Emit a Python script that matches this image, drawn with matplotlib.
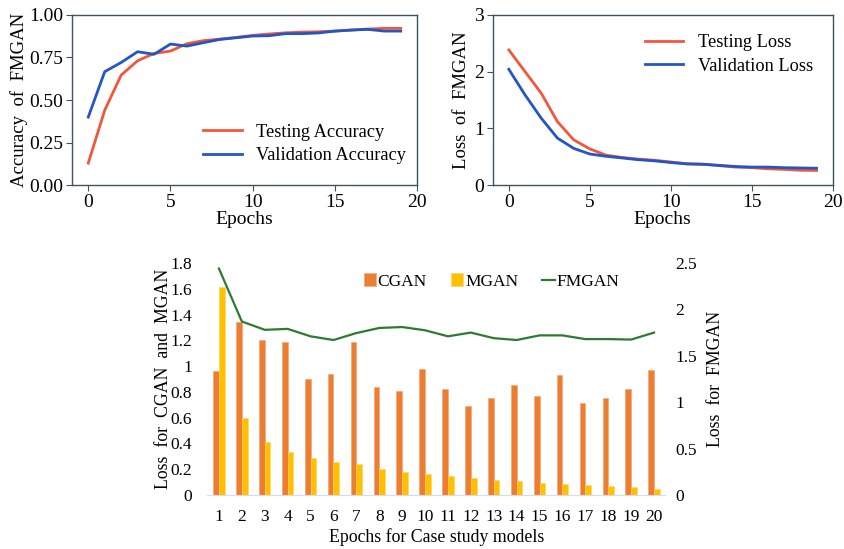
import numpy as np
import matplotlib
matplotlib.use("Agg")
import matplotlib.pyplot as plt

plt.rcParams['font.family'] = ['Liberation Serif', 'DejaVu Serif']

epochs = list(range(20))
test_acc = [0.13, 0.44, 0.646, 0.73, 0.773, 0.787, 0.83, 0.848, 0.857, 0.867,
            0.879, 0.887, 0.894, 0.898, 0.90, 0.904, 0.91, 0.916, 0.92, 0.92]
val_acc = [0.40, 0.666, 0.72, 0.783, 0.768, 0.828, 0.816, 0.836, 0.855, 0.865,
           0.875, 0.877, 0.889, 0.889, 0.893, 0.904, 0.91, 0.914, 0.904, 0.904]
test_loss = [2.38, 2.0, 1.62, 1.12, 0.80, 0.64, 0.53, 0.49, 0.46, 0.44,
             0.41, 0.38, 0.37, 0.345, 0.32, 0.31, 0.29, 0.28, 0.265, 0.26]
val_loss = [2.04, 1.59, 1.18, 0.83, 0.65, 0.55, 0.51, 0.48, 0.45, 0.43,
            0.40, 0.375, 0.37, 0.35, 0.33, 0.32, 0.32, 0.31, 0.305, 0.30]

models = [str(i) for i in range(1, 21)]
cgan = [0.965, 1.345, 1.20, 1.185, 0.90, 0.94, 1.185, 0.84, 0.81, 0.975,
        0.82, 0.69, 0.75, 0.85, 0.77, 0.93, 0.716, 0.75, 0.82, 0.97]
mgan = [1.616, 0.60, 0.41, 0.335, 0.29, 0.256, 0.24, 0.20, 0.18, 0.163,
        0.15, 0.13, 0.116, 0.11, 0.093, 0.083, 0.078, 0.067, 0.064, 0.05]
fmgan = [2.44, 1.87, 1.78, 1.79, 1.71, 1.67, 1.745, 1.80, 1.81, 1.775,
         1.71, 1.75, 1.69, 1.67, 1.72, 1.72, 1.68, 1.68, 1.675, 1.75]

RED = '#f2573a'
BLUE = '#2356c4'
SPINE = '#3f5260'

fig = plt.figure(figsize=(8.45, 5.49), dpi=100)


def style_top(ax):
    for s in ax.spines.values():
        s.set_color(SPINE)
        s.set_linewidth(1.0)
    ax.tick_params(labelsize=14, color=SPINE, length=4, pad=2)
    ax.set_xlim(-1, 20)
    ax.set_xticks([0, 5, 10, 15, 20])
    ax.set_xlabel('Epochs', fontsize=14, labelpad=0)


# accuracy
ax1 = fig.add_axes([0.085, 0.6625, 0.4087, 0.3107])
ax1.plot(epochs, test_acc, color=RED, lw=2, label='Testing Accuracy')
ax1.plot(epochs, val_acc, color=BLUE, lw=2, label='Validation Accuracy')
ax1.set_ylim(0, 1)
ax1.set_yticks([0, 0.25, 0.5, 0.75, 1.0])
ax1.set_yticklabels(['0.00', '0.25', '0.50', '0.75', '1.00'])
ax1.set_ylabel('Accuracy  of  FMGAN', fontsize=13.5, labelpad=1)
style_top(ax1)
ax1.legend(loc='lower right', bbox_to_anchor=(1.0, 0.06), frameon=False, fontsize=13.2,
           handlelength=2.1, handletextpad=0.8, labelspacing=0.35, borderaxespad=0.2)

# loss
ax2 = fig.add_axes([0.583, 0.6625, 0.4025, 0.3107])
ax2.plot(epochs, test_loss, color=RED, lw=2, label='Testing Loss')
ax2.plot(epochs, val_loss, color=BLUE, lw=2, label='Validation Loss')
ax2.set_ylim(0, 3)
ax2.set_yticks([0, 1, 2, 3])
ax2.set_ylabel('Loss  of  FMGAN', fontsize=13.5, labelpad=3)
style_top(ax2)
ax2.legend(loc='upper right', bbox_to_anchor=(0.975, 0.95), frameon=False, fontsize=13.2,
           handlelength=2.1, handletextpad=0.8, labelspacing=0.35, borderaxespad=0.2)

# bottom bar + line chart
ax3 = fig.add_axes([207.5 / 845, 1 - 495 / 549, 458 / 845, 232 / 549])
x = np.arange(1, 21)
w = 0.25
b1 = ax3.bar(x - w / 2, cgan, w, color='#ed7d31', edgecolor='#f4a070', lw=0.4, label='CGAN')
b2 = ax3.bar(x + w / 2, mgan, w, color='#ffc000', edgecolor='#ffd560', lw=0.4, label='MGAN')
ax3.set_xlim(0.5, 20.5)
ax3.set_ylim(0, 1.8)
ax3.set_yticks(np.arange(0, 1.81, 0.2))
ax3.set_yticklabels(['0', '0.2', '0.4', '0.6', '0.8', '1', '1.2', '1.4', '1.6', '1.8'])
ax3.set_xticks(x)
ax3.set_xticklabels(models)
for s in ['top', 'left', 'right']:
    ax3.spines[s].set_visible(False)
ax3.spines['bottom'].set_color('#d6dde8')
ax3.tick_params(length=0, labelsize=12.5)
ax3.tick_params(axis='y', pad=11)
ax3.tick_params(axis='x', pad=10)
ax3.set_ylabel('Loss  for  CGAN  and  MGAN', fontsize=12.8, labelpad=-1)
ax3.set_xlabel('Epochs for Case study models', fontsize=12.8, labelpad=2)

ax4 = ax3.twinx()
l1, = ax4.plot(x, fmgan, color='#2e7a32', lw=1.6, label='FMGAN')
ax4.set_ylim(0, 2.5)
ax4.set_yticks([0, 0.5, 1, 1.5, 2, 2.5])
ax4.set_yticklabels(['0', '0.5', '1', '1.5', '2', '2.5'])
for s in ax4.spines.values():
    s.set_visible(False)
ax4.tick_params(length=0, labelsize=12.5, pad=7)
ax4.set_ylabel('Loss  for  FMGAN', fontsize=12.8, labelpad=7)

ax4.legend([b1, b2, l1], ['CGAN', 'MGAN', 'FMGAN'], loc='center', bbox_to_anchor=(0.62, 0.92),
           ncol=3, frameon=False, fontsize=12.5, handlelength=0.7, handleheight=0.7,
           handletextpad=0.1, columnspacing=1.4)

fig.savefig('out.png', dpi=100)
